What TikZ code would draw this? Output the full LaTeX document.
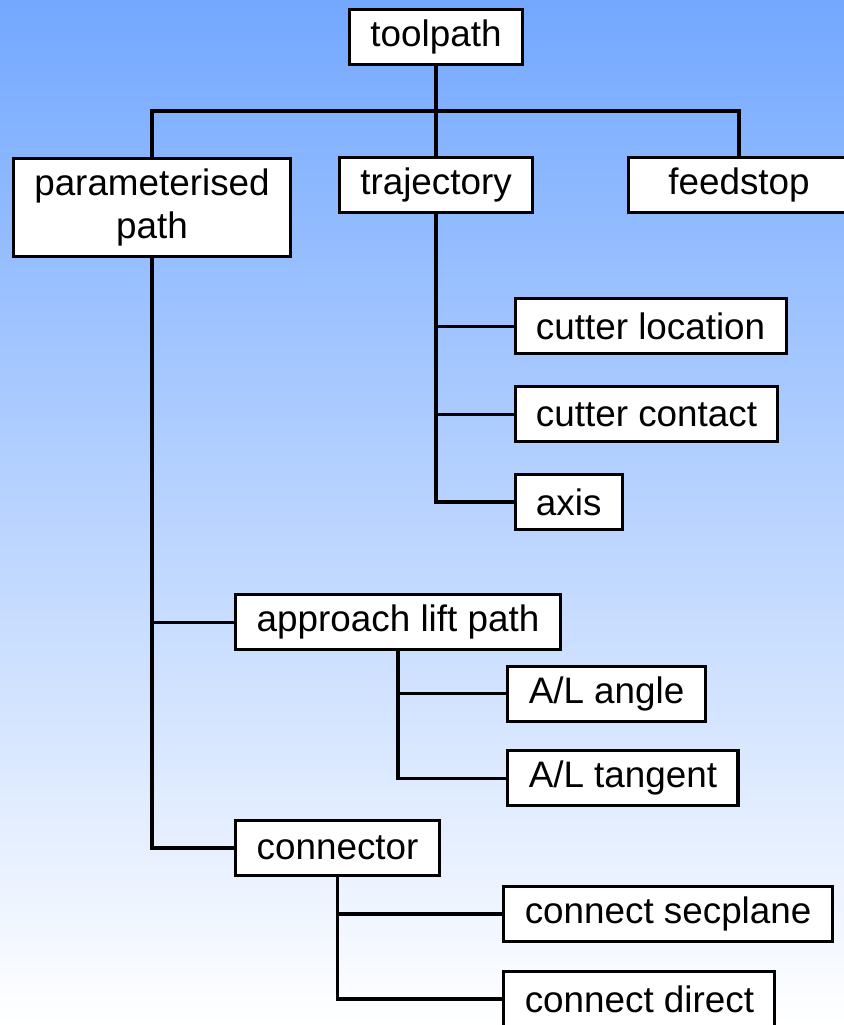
\documentclass[tikz,border=0pt]{standalone}
\usepackage{fontspec}
\setmainfont{Liberation Sans}
\definecolor{skyblue}{HTML}{73A8FF}
\begin{document}
\begin{tikzpicture}[box/.style={draw,fill=white,line width=2.2pt,inner xsep=0.52cm,minimum height=1.375cm,font=\fontsize{26.2}{31}\selectfont},link/.style={line width=2.5pt}]
	\clip(0,0)rectangle(21.1,-25.625);
	\shade[top color=skyblue,bottom color=white](0,0)rectangle(21.1,-25.625);
	% top level
	\node[box](toolpath)at(10.9,-0.925){toolpath};
	\node[box,minimum height=2.45cm,align=center](param)at(3.8,-5.19){parameterised\\path};
	\node[box](traj)at(10.9,-4.625){trajectory};
	\node[box,minimum width=5.525cm](feedstop)at(18.475,-4.625){feedstop};
	\coordinate(bar)at(10.9,-2.775);
	% trajectory branch
	\node[box,anchor=west](cutloc)at(12.84,-8.16){cutter location};
	\node[box,anchor=west](cutcon)at(12.84,-10.36){cutter contact};
	\node[box,anchor=west](axis)at(12.84,-12.55){axis};
	% parameterised path branch
	\node[box,anchor=west](approach)at(5.86,-15.56){approach lift path};
	\node[box,anchor=west](alangle)at(12.66,-17.34){A/L angle};
	\node[box,anchor=west](altangent)at(12.66,-19.46){A/L tangent};
	\node[box,anchor=west](connector)at(5.86,-21.2){connector};
	\node[box,anchor=west](secplane)at(12.56,-22.85){connect secplane};
	\node[box,anchor=west](direct)at(12.56,-24.975){connect direct};
	\draw[link](toolpath)--(traj) (param)|-(bar)-|(feedstop);
	\draw[link](traj)|-(cutloc) (traj)|-(cutcon) (traj)|-(axis);
	\draw[link](param)|-(approach) (param)|-(connector);
	\draw[link](approach)|-(alangle) (approach)|-(altangent);
	\draw[link](connector)|-(secplane) (connector)|-(direct);
\end{tikzpicture}
\end{document}
